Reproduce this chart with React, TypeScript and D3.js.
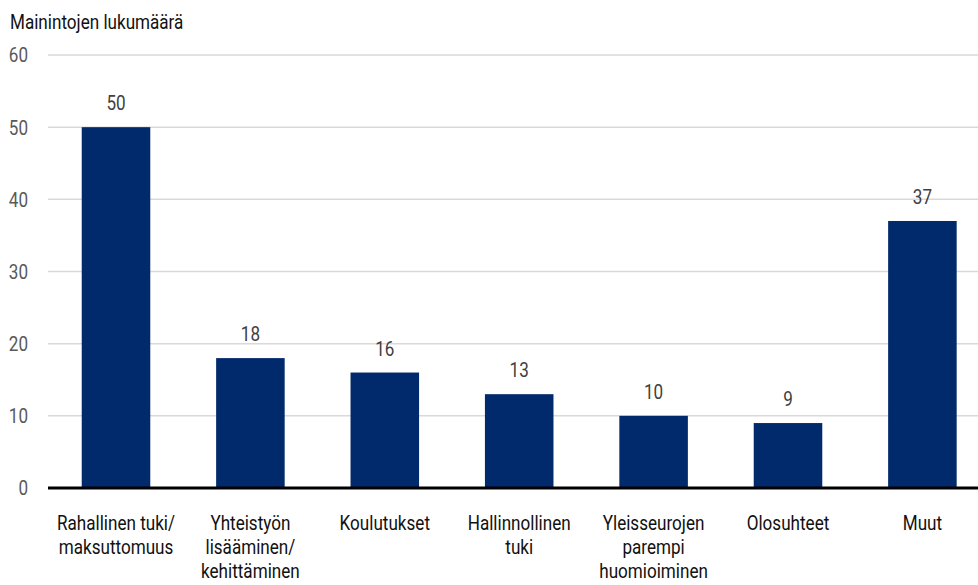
import React from "react";
import * as d3 from "d3";

const categories: string[][] = [
  ["Rahallinen tuki/", "maksuttomuus"],
  ["Yhteistyön", "lisääminen/", "kehittäminen"],
  ["Koulutukset"],
  ["Hallinnollinen", "tuki"],
  ["Yleisseurojen", "parempi", "huomioiminen"],
  ["Olosuhteet"],
  ["Muut"],
];
const values: number[] = [50, 18, 16, 13, 10, 9, 37];
const yTicks: number[] = [0, 10, 20, 30, 40, 50, 60];
const yTitle = "Mainintojen lukumäärä";

const W = 978;
const H = 585;
const FONT = "Roboto, 'Noto Sans', sans-serif";
const SX = 0.855;

function T(props: {
  x: number;
  y: number;
  anchor?: "start" | "middle" | "end";
  fill: string;
  size?: number;
  central?: boolean;
  children: React.ReactNode;
}) {
  return (
    <g transform={`translate(${props.x},${props.y}) scale(${SX},1)`}>
      <text
        x={0}
        y={0}
        textAnchor={props.anchor ?? "start"}
        dominantBaseline={props.central ? "central" : undefined}
        fontSize={props.size ?? 20}
        fill={props.fill}
      >
        {props.children}
      </text>
    </g>
  );
}

export default function App() {
  const x = d3
    .scaleBand<number>()
    .domain(d3.range(values.length))
    .range([48.8, 989.6])
    .paddingInner(0.49)
    .paddingOuter(0.245);
  const y = d3.scaleLinear().domain([0, 60]).range([488, 55]);

  return (
    <svg
      width={W}
      height={H}
      style={{ position: "absolute", left: 0, top: 0, display: "block", background: "#fff" }}
      fontFamily={FONT}
    >
      <T x={10} y={29} fill="#111">
        {yTitle}
      </T>
      {yTicks.map((t) => (
        <g key={t}>
          {t !== 0 && (
            <line x1={48} x2={W} y1={y(t)} y2={y(t)} stroke="#d9d9d9" strokeWidth={1.5} />
          )}
          <T x={28} y={y(t) + 1} anchor="end" central fill="#595959">
            {t}
          </T>
        </g>
      ))}
      {values.map((v, i) => {
        const cx = (x(i) as number) + x.bandwidth() / 2;
        return (
          <g key={i}>
            <rect
              x={x(i)}
              y={y(v)}
              width={x.bandwidth()}
              height={y(0) - y(v)}
              fill="#002a6b"
            />
            <T x={cx} y={y(v) - 17} anchor="middle" fill="#404040">
              {v}
            </T>
            {categories[i].map((line, j) => (
              <T key={j} x={cx} y={530 + j * 24} anchor="middle" fill="#111">
                {line}
              </T>
            ))}
          </g>
        );
      })}
      <line x1={48} x2={W} y1={y(0)} y2={y(0)} stroke="#000" strokeWidth={3} />
    </svg>
  );
}
